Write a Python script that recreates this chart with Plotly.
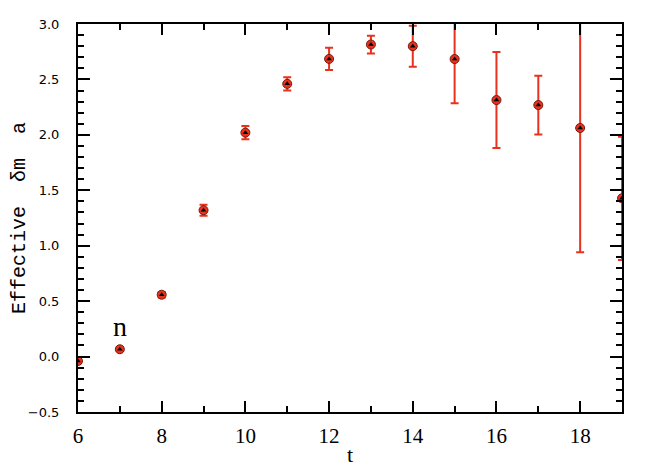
import plotly.graph_objects as go

t_vals = [6, 7, 8, 9, 10, 11, 12, 13, 14, 15, 16, 17, 18, 19]
dm_vals = [-0.04, 0.066, 0.558, 1.32, 2.02, 2.46, 2.685, 2.815, 2.80, 2.684, 2.314, 2.269, 2.062, 1.428]
dm_err = [0.02, 0.015, 0.025, 0.05, 0.06, 0.06, 0.10, 0.08, 0.185, 0.40, 0.433, 0.265, 1.12, 0.556]

x_ticks = [6, 8, 10, 12, 14, 16, 18]
y_ticks = [-0.5, 0.0, 0.5, 1.0, 1.5, 2.0, 2.5, 3.0]
y_tick_text = ["\u22120.5", "0.0", "0.5", "1.0", "1.5", "2.0", "2.5", "3.0"]

RED = "#e8321e"

fig = go.Figure()
fig.add_trace(go.Scatter(
    x=t_vals, y=dm_vals, mode="markers",
    error_y=dict(type="data", array=dm_err, color=RED, thickness=2, width=4),
    marker=dict(symbol="circle", size=9, color=RED, line=dict(color="#7a1a0c", width=1)),
    showlegend=False, hoverinfo="skip",
))
fig.add_trace(go.Scatter(
    x=t_vals, y=dm_vals, mode="markers",
    marker=dict(symbol="triangle-up", size=5, color="black"),
    showlegend=False, hoverinfo="skip",
))

fig.add_annotation(x=7, y=0.27, text="n", showarrow=False,
                   font=dict(family="Liberation Serif", size=28, color="black"))

fig.update_layout(
    width=657, height=459,
    margin=dict(l=70, r=43, t=16, b=55),
    paper_bgcolor="white", plot_bgcolor="white",
    xaxis=dict(
        range=[6, 19], tickvals=x_ticks, ticks="inside", ticklen=11, tickwidth=2,
        tickcolor="black", showline=True, linecolor="black", linewidth=2,
        mirror="allticks", showgrid=False, zeroline=False, automargin=False,
        ticklabelstandoff=4,
        minor=dict(dtick=1, tick0=6, ticks="inside", ticklen=6, tickwidth=2, tickcolor="black", showgrid=False),
        tickfont=dict(family="Liberation Serif", size=21, color="black"),
        title=dict(text="t", font=dict(family="Liberation Serif", size=22, color="black"), standoff=3),
    ),
    yaxis=dict(
        range=[-0.5, 3.0], tickvals=y_ticks, ticktext=y_tick_text, ticks="inside", ticklen=12, tickwidth=2,
        tickcolor="black", showline=True, linecolor="black", linewidth=2,
        mirror="allticks", showgrid=False, zeroline=False, automargin=False,
        ticklabelstandoff=14,
        minor=dict(dtick=0.1, tick0=0, ticks="inside", ticklen=6, tickwidth=2, tickcolor="black", showgrid=False),
        tickfont=dict(family="DejaVu Sans", size=13, color="black"),
        title=dict(text="Effective  \u03b4m  a", font=dict(family="Liberation Mono", size=20, color="black"), standoff=28),
    ),
)

fig.write_html("out.html")
